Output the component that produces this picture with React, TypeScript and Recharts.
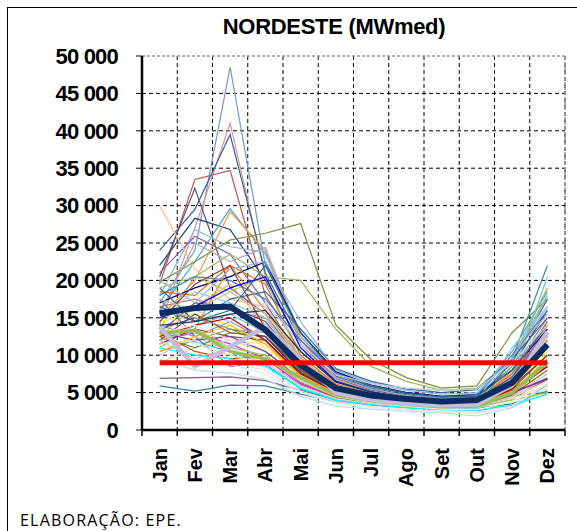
import React from 'react';
import {
  LineChart,
  Line,
  XAxis,
  YAxis,
  CartesianGrid,
  ReferenceLine,
} from 'recharts';

const meses = ['Jan', 'Fev', 'Mar', 'Abr', 'Mai', 'Jun', 'Jul', 'Ago', 'Set', 'Out', 'Nov', 'Dez'];
const yTicks = [0, 5000, 10000, 15000, 20000, 25000, 30000, 35000, 40000, 45000, 50000];

// media historica (linha azul escura grossa)
const media = [15600, 16300, 16500, 13400, 8700, 5600, 4600, 4150, 3800, 4000, 6300, 11400];
// referencia (linha vermelha)
const referencia = [9000, 9000, 9000, 9000, 9000, 9000, 9000, 9000, 9000, 9000, 9000, 9000];
// series destacadas
const lilas = [13800, 8500, 11100, 13800, 9400, 5000, 4000, 3500, 3300, 3400, 6000, 13100];
const verdeGrosso = [13000, 13300, 10500, 9500, 7000, 4700, 3900, 3400, 3100, 3200, 5000, 9000];

// series historicas (linhas finas)
const historico = [
  [17000, 24000, 48500, 22000, 12500, 7500, 6000, 5000, 4500, 4800, 8000, 15000],
  [14000, 27000, 41000, 20500, 11000, 6800, 5400, 4600, 4000, 4200, 7500, 13000],
  [24000, 29500, 39500, 21000, 12000, 7200, 5600, 4700, 4200, 4300, 9000, 17500],
  [19500, 33500, 34700, 18000, 10500, 6500, 5100, 4400, 3900, 4100, 7000, 14500],
  [20500, 32300, 19000, 15500, 9000, 5800, 4600, 4000, 3600, 3700, 6500, 12000],
  [22000, 28300, 26800, 20000, 11500, 6900, 5300, 4500, 4100, 4200, 8500, 16000],
  [16000, 22500, 29600, 23500, 13000, 7600, 5900, 5000, 4500, 4700, 10500, 18500],
  [15000, 20000, 29200, 24000, 12000, 6800, 5200, 4400, 3900, 4000, 7800, 14000],
  [18000, 26800, 24500, 23800, 11500, 6600, 5200, 4300, 3800, 4100, 9500, 16500],
  [21000, 25900, 23500, 17000, 9500, 6000, 4800, 4100, 3700, 3800, 7200, 13500],
  [30000, 21500, 17500, 16500, 9800, 6200, 4900, 4100, 3700, 3900, 6800, 12500],
  [19800, 22500, 25400, 26300, 27600, 14000, 9400, 7000, 5600, 5900, 13000, 17500],
  [13500, 20500, 23500, 20500, 20000, 13500, 8500, 6500, 5300, 5600, 9500, 19000],
  [15500, 25000, 22500, 24400, 12500, 7000, 5500, 4600, 4200, 4400, 10000, 15500],
  [5900, 5200, 6000, 5900, 4800, 3800, 3300, 3000, 2800, 2900, 3500, 5200],
  [6900, 7000, 7100, 6600, 5300, 4000, 3400, 3100, 2900, 3000, 4200, 6800],
  [9500, 8000, 7600, 6800, 4500, 3200, 2800, 2500, 2300, 1900, 3000, 5500],
  [17000, 19000, 20500, 22500, 13000, 7800, 6000, 5000, 4500, 4700, 8000, 13500],
  [14500, 15500, 14000, 11000, 7500, 5000, 4100, 3600, 3300, 3400, 5500, 10500],
  [12000, 13000, 11500, 9500, 6200, 4300, 3700, 3300, 3000, 3100, 4800, 9000],
  [13500, 11800, 10500, 8800, 5500, 4000, 3400, 3000, 2800, 2600, 3200, 6000],
  [18500, 18000, 22000, 19500, 10000, 6100, 4900, 4200, 3800, 4000, 7500, 14500],
  [16500, 17500, 16000, 15000, 9000, 5900, 4700, 4000, 3600, 3800, 6400, 12500],
  [12500, 16500, 19500, 14000, 8500, 5600, 4500, 3800, 3500, 3600, 6000, 11000],
  [11000, 14000, 15500, 13000, 8000, 5300, 4300, 3700, 3300, 3500, 7000, 20500],
  [19000, 20500, 18500, 20500, 9000, 5700, 4500, 3900, 3500, 3700, 8500, 18000],
  [14000, 12500, 14500, 12000, 7000, 4800, 3900, 3400, 3100, 3200, 5000, 9500],
  [16500, 14500, 17500, 18500, 13500, 8200, 6500, 5500, 5000, 5400, 9500, 15000],
  [12000, 15500, 13000, 12500, 8200, 5400, 4400, 3800, 3400, 3600, 5800, 10000],
  [10500, 12000, 13500, 11500, 7200, 4900, 4000, 3500, 3200, 3300, 5000, 8500],
  [13000, 17000, 16500, 14500, 8800, 5700, 4600, 3900, 3500, 3700, 6200, 11500],
  [17500, 12500, 8500, 9000, 6000, 4200, 3600, 3200, 2900, 3000, 9500, 22000],
  [11500, 13500, 22000, 16000, 9500, 6000, 4800, 4100, 3700, 3900, 6500, 12000],
  [9000, 11000, 12000, 10500, 6800, 4600, 3800, 3300, 3000, 3100, 4500, 7500],
  [15000, 18500, 17000, 15000, 9200, 5800, 4700, 4000, 3600, 3800, 11000, 16500],
  [10000, 12500, 10500, 9000, 5800, 4100, 3500, 3100, 2800, 2900, 4300, 7000],
  [18000, 20500, 20000, 17500, 12000, 7500, 5900, 4900, 4400, 4600, 10000, 16000],
  [19000, 14500, 16000, 22000, 13000, 7500, 5800, 4900, 4400, 4500, 8000, 14000],
  [13000, 10500, 9500, 10000, 6400, 4400, 3700, 3200, 2900, 3000, 4700, 8000],
  [11500, 13500, 12500, 12000, 7500, 5000, 4100, 3500, 3200, 3300, 5300, 8500],
  [12500, 11000, 13000, 12500, 7800, 5200, 4200, 3600, 3300, 3400, 4600, 5000],
  [13500, 15000, 13500, 12500, 7600, 5100, 4100, 3600, 3300, 3400, 5000, 6900],
  [16000, 13000, 12000, 11500, 7000, 4700, 3800, 3300, 3000, 3100, 4400, 6500],
  [14000, 11500, 10000, 9000, 5900, 4200, 3500, 3100, 2900, 3000, 4200, 6000],
  [12000, 9500, 11000, 10000, 6500, 4500, 3700, 3200, 2900, 3000, 4500, 7500],
  [8500, 9000, 8800, 7500, 5000, 3600, 3000, 2700, 2500, 2400, 3300, 5800],
  [20000, 17000, 21500, 22500, 14500, 8000, 6300, 5300, 4800, 5000, 9500, 18000],
  [15500, 16000, 14500, 17000, 11500, 7400, 6200, 5600, 5300, 5500, 9000, 14000],
  [14500, 19500, 22000, 13500, 8000, 5300, 4300, 3700, 3400, 3500, 5500, 10000],
  [11000, 10000, 9500, 8500, 5600, 4000, 3400, 3000, 2700, 2800, 3300, 4800],
  [15000, 16500, 19000, 20500, 11000, 6500, 5100, 4300, 3900, 4100, 6500, 11000],
  [13000, 12000, 12500, 10500, 7000, 4700, 3900, 3400, 3100, 3200, 5000, 6800],
  [12500, 14000, 15000, 12000, 7500, 5000, 4100, 3500, 3200, 3300, 5500, 8500],
  [12000, 13500, 11000, 10000, 6800, 4600, 3800, 3300, 3000, 3100, 4000, 5000],
  [13000, 14000, 12000, 11000, 6900, 4500, 3700, 3200, 2800, 2700, 3800, 6200],
  [16000, 15000, 13500, 13000, 8500, 5500, 4400, 3800, 3400, 3600, 6000, 12000],
  [10500, 12500, 14000, 11500, 7300, 4900, 4000, 3500, 3200, 3300, 5200, 9500],
  [14000, 14500, 15500, 16000, 10500, 6400, 5100, 4300, 3900, 4100, 7000, 13000],
  [17500, 16000, 18500, 15500, 9500, 6000, 4800, 4100, 3700, 3900, 6900, 12500],
  [11500, 12000, 9000, 8000, 5200, 3800, 3200, 2800, 2400, 2300, 3200, 6200],
];

const cores = [
  '#729ACA', '#D99694', '#376092', '#C0504D', '#60497A', '#1F497D', '#4BACC6', '#F79646',
  '#95B3D7', '#8064A2', '#FAC090', '#77933C', '#9BBB59', '#B3A2C7', '#31859C', '#7F6084',
  '#B7DEE8', '#000080', '#FFFF00', '#FF00FF', '#00B0F0', '#E46C0A', '#CD7371', '#F9AB6B',
  '#6FBDD1', '#AFC97A', '#9983B5', '#3A679C', '#9F3B38', '#7E9D40', '#664F83', '#358EA6',
  '#F38517', '#C3D69B', '#93CDDD', '#E6B9B8', '#4F81BD', '#276A7C', '#B65708', '#772C2A',
  '#5F7530', '#4D3B62', '#FCD5B5', '#D7E4BD', '#CCC1DA', '#DBEEF4', '#8EB4E3', '#B9CDE5',
  '#953735', '#00FFFF', '#0000FF', '#7030A0', '#C00000', '#92D050', '#FDEADA', '#A5A5A5',
  '#FFC000', '#17375E', '#C4BD97', '#F2DCDB',
];

const data = meses.map((mes, i) => {
  const row: Record<string, number | string> = {
    i,
    mes,
    media: media[i],
    referencia: referencia[i],
    lilas: lilas[i],
    verdeGrosso: verdeGrosso[i],
  };
  historico.forEach((s, k) => {
    row['s' + k] = s[i];
  });
  return row;
});

// geometria da area de plotagem
const W = 577;
const H = 531;
const M = { top: 56, right: 12, left: 0 };
const EIXO_Y = 142;
const EIXO_X = 101;
const yMax = yTicks[yTicks.length - 1];

const centros = meses.map((_, i) => i);
const divisas = meses.slice(1).map((_, i) => i + 0.5);
const xTicks = [-0.5, ...centros.flatMap((c) => [c, c + 0.5])];
const linhasGrade = yTicks.slice(1, -1);

const fmtY = (v: number) => (v === 0 ? '0' : `${v / 1000} 000`);

const XTick = (props: any) => {
  const { x, y, payload } = props;
  const v = payload.value;
  if (Number.isInteger(v)) {
    return (
      <text
        transform={`translate(${x},${y + 18}) rotate(-90)`}
        textAnchor="end"
        dominantBaseline="central"
        fontFamily="'Liberation Sans', Arial, sans-serif"
        fontWeight="bold"
        fontSize={20}
        fill="#000"
      >
        {meses[v]}
      </text>
    );
  }
  return <line x1={x} x2={x} y1={y} y2={y + 6} stroke="#000" strokeWidth={1.5} />;
};

// linhas horizontais da grade, desenhadas por baixo do grafico
const GradeHorizontal = () => {
  const x0 = M.left + EIXO_Y;
  const x1 = W - M.right;
  const altura = H - EIXO_X - M.top;
  return (
    <svg width={W} height={H} style={{ position: 'absolute', left: 0, top: 0 }}>
      {linhasGrade.map((v) => {
        const y = M.top + (1 - v / yMax) * altura;
        return (
          <line key={v} x1={x0} x2={x1} y1={y} y2={y} stroke="#000" strokeDasharray="4 3" strokeWidth={1} />
        );
      })}
    </svg>
  );
};

export default function App() {
  return (
    <div
      style={{
        position: 'absolute',
        left: 0,
        top: 0,
        width: W,
        height: H,
        overflow: 'hidden',
        background: '#fff',
      }}
    >
      <div
        style={{
          position: 'absolute',
          left: 7,
          top: 7,
          width: 600,
          height: 600,
          borderTop: '1.5px solid #000',
          borderLeft: '1.5px solid #000',
        }}
      />
      <div
        style={{
          position: 'absolute',
          left: 100,
          width: 468,
          top: 14,
          textAlign: 'center',
          fontFamily: "'Liberation Sans', Arial, sans-serif",
          fontWeight: 'bold',
          fontSize: 22,
          lineHeight: '26px',
          letterSpacing: -0.3,
        }}
      >
        NORDESTE (MWmed)
      </div>
      <div
        style={{
          position: 'absolute',
          left: 20,
          top: 509,
          fontFamily: "'Open Sans', sans-serif",
          fontSize: 16,
          lineHeight: '22px',
          letterSpacing: 1.2,
          color: '#000',
        }}
      >
        ELABORAÇÃO: EPE.
      </div>
      <GradeHorizontal />
      <div style={{ position: 'absolute', left: 0, top: 0 }}>
        <LineChart
          width={W}
          height={H}
          data={data}
          margin={{ top: M.top, right: M.right, bottom: 0, left: M.left }}
        >
          <XAxis xAxisId="g" hide type="number" dataKey="i" domain={[-0.5, 11.5]} ticks={divisas} />
          <CartesianGrid
            xAxisId="g"
            horizontal={false}
            stroke="#000"
            strokeDasharray="4 3"
            strokeWidth={1}
          />
          <XAxis
            dataKey="i"
            type="number"
            domain={[-0.5, 11.5]}
            ticks={xTicks}
            interval={0}
            height={EIXO_X}
            tickSize={0}
            tickMargin={0}
            tick={<XTick />}
            tickLine={false}
            axisLine={{ stroke: '#000', strokeWidth: 2.5 }}
          />
          <YAxis
            width={EIXO_Y}
            domain={[0, yMax]}
            ticks={yTicks}
            interval={0}
            tickFormatter={fmtY}
            tickSize={6}
            tickMargin={18}
            stroke="#000"
            tick={{
              fill: '#000',
              fontSize: 22,
              fontWeight: 'bold',
              fontFamily: "'Liberation Sans', Arial, sans-serif",
              letterSpacing: -0.8,
            }}
          />
          <ReferenceLine y={yMax} stroke="#999" strokeDasharray="3 2" strokeWidth={1.5} />
          <ReferenceLine x={11.5} stroke="#999" strokeDasharray="3 2" strokeWidth={1.5} />
          <ReferenceLine x={-0.5} stroke="#000" strokeWidth={2.5} />
          {historico.map((_, k) => (
            <Line
              key={k}
              dataKey={'s' + k}
              stroke={cores[k % cores.length]}
              strokeWidth={1.2}
              dot={false}
              isAnimationActive={false}
            />
          ))}
          <Line dataKey="verdeGrosso" stroke="#9BBB59" strokeWidth={3.5} dot={false} isAnimationActive={false} />
          <Line dataKey="lilas" stroke="#C3BDD9" strokeWidth={4.5} dot={false} isAnimationActive={false} />
          <Line dataKey="media" stroke="#0B2B61" strokeWidth={6} dot={false} isAnimationActive={false} />
          <Line dataKey="referencia" stroke="#FF0000" strokeWidth={5} dot={false} isAnimationActive={false} />
        </LineChart>
      </div>
    </div>
  );
}
